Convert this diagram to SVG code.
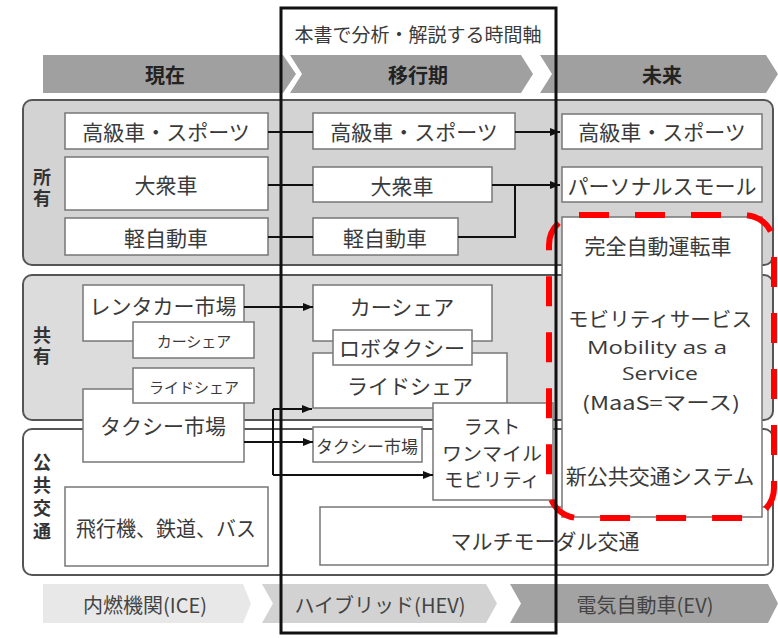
<svg xmlns="http://www.w3.org/2000/svg" width="778" height="638" viewBox="0 0 778 638">
<defs>
<marker id="ah" markerWidth="10" markerHeight="8" refX="10" refY="4" orient="auto" markerUnits="userSpaceOnUse">
<path d="M0,0 L10,4 L0,8 Z" fill="#111"/>
</marker>
</defs>
<style>
text{font-family:"Noto Sans CJK JP","Noto Sans",sans-serif;fill:#3a3a3a;dominant-baseline:central;text-anchor:middle}
.t{font-size:21px}
.s{font-size:15px}
.m{font-size:17px}
.h{font-size:20px;font-weight:bold;fill:#222}
.v{font-size:18px;font-weight:bold;fill:#333;writing-mode:vertical-rl}
.b{font-size:20px;fill:#444}
.lat{font-family:"Open Sans","Noto Sans",sans-serif;font-size:19px}
.box{fill:#fff;stroke:#777;stroke-width:1.5}
.panel{stroke:#555;stroke-width:2}
.c{fill:none;stroke:#111;stroke-width:2}
.ca{fill:none;stroke:#111;stroke-width:2;marker-end:url(#ah)}
</style>
<rect width="778" height="638" fill="#fff"/>
<g id="header">
<path d="M43,55 H283 L296,74 L283,93 H43 Z" fill="#a0a0a0"/>
<path d="M290,55 H521 L533,74 L521,93 H290 L302,74 Z" fill="#a0a0a0"/>
<path d="M540,55 H766 L778,74 L766,93 H540 L552,74 Z" fill="#a0a0a0"/>
<text class="h" x="165" y="74">現在</text>
<text class="h" x="418" y="74">移行期</text>
<text class="h" x="662" y="74">未来</text>
</g>
<g id="panels">
<rect class="panel" x="23" y="100" width="750" height="165" rx="9" fill="#d3d3d3"/>
<rect class="panel" x="23" y="275" width="750" height="145" rx="9" fill="#dcdcdc"/>
<rect class="panel" x="23" y="429" width="750" height="146" rx="9" fill="#fff"/>
<text class="v" x="42" y="189" letter-spacing="3">所有</text>
<text class="v" x="42" y="347" letter-spacing="3">共有</text>
<text class="v" x="42" y="499" letter-spacing="5">公共交通</text>
</g>
<g id="n-left-luxury"><rect class="box" x="65" y="113" width="203" height="36"/><text class="t" x="166" y="131">高級車・スポーツ</text></g>
<g id="n-left-mass"><rect class="box" x="65" y="157" width="203" height="53"/><text class="t" x="166" y="184">大衆車</text></g>
<g id="n-left-kei"><rect class="box" x="65" y="218" width="203" height="37"/><text class="t" x="166" y="237">軽自動車</text></g>
<g id="n-mid-luxury"><rect class="box" x="313" y="113" width="202" height="36"/><text class="t" x="414" y="131">高級車・スポーツ</text></g>
<g id="n-mid-mass"><rect class="box" x="313" y="167" width="179" height="35"/><text class="t" x="402" y="185">大衆車</text></g>
<g id="n-mid-kei"><rect class="box" x="313" y="218" width="145" height="37"/><text class="t" x="385" y="237">軽自動車</text></g>
<g id="n-right-luxury"><rect class="box" x="562" y="114" width="200" height="35"/><text class="t" x="662" y="131">高級車・スポーツ</text></g>
<g id="n-right-personal"><rect class="box" x="562" y="167" width="200" height="35"/><text class="t" x="662" y="185">パーソナルスモール</text></g>
<g id="n-rental"><rect class="box" x="83" y="285" width="161" height="56"/><text class="t" x="163" y="305">レンタカー市場</text></g>
<g id="n-carshare-small"><rect class="box" x="133" y="322" width="121" height="36"/><text class="s" x="194" y="340">カーシェア</text></g>
<g id="n-taxi"><rect class="box" x="83" y="389" width="161" height="73"/><text class="t" x="163" y="425">タクシー市場</text></g>
<g id="n-rideshare-small"><rect class="box" x="133" y="368" width="121" height="35"/><text class="s" x="194" y="386">ライドシェア</text></g>
<g id="n-mid-carshare"><rect class="box" x="313" y="285" width="179" height="56"/><text class="t" x="402" y="306">カーシェア</text></g>
<g id="n-mid-rideshare"><rect class="box" x="313" y="353" width="194" height="55"/><text class="t" x="410" y="385">ライドシェア</text></g>
<g id="n-robotaxi"><rect class="box" x="333" y="330" width="139" height="35"/><text class="t" x="402" y="347">ロボタクシー</text></g>
<g id="n-mid-taxi"><rect class="box" x="313" y="427" width="109" height="35"/><text class="m" x="367" y="445">タクシー市場</text></g>
<g id="n-lastmile"><rect class="box" x="433" y="403" width="120" height="97"/><text style="font-size:19px" x="492" y="425">ラスト</text><text style="font-size:19px" x="492" y="452" textLength="100" lengthAdjust="spacingAndGlyphs">ワンマイル</text><text style="font-size:19px" x="492" y="478" textLength="96" lengthAdjust="spacingAndGlyphs">モビリティ</text></g>
<g id="n-transit"><rect class="box" x="65" y="487" width="203" height="79"/><text class="t" x="166" y="527" textLength="180" lengthAdjust="spacingAndGlyphs">飛行機、鉄道、バス</text></g>
<g id="n-multimodal"><rect class="box" x="320" y="507" width="448" height="58"/><text class="t" x="545" y="540">マルチモーダル交通</text></g>
<g id="connectors">
<path class="c" d="M268,132 H313"/>
<path class="c" d="M268,185 H313"/>
<path class="c" d="M268,237 H313"/>
<path class="ca" d="M515,132 H560"/>
<path class="ca" d="M492,185 H560"/>
<path class="c" d="M458,237 H515 V185"/>
<path class="ca" d="M244,307 H313"/>
<path class="ca" d="M244,442 H313"/>
<path class="c" d="M273,409 V475"/>
<path class="ca" d="M273,409 H312"/>
<path class="ca" d="M273,475 H433"/>
</g>
<g id="n-future">
<rect class="box" x="562" y="217" width="200" height="300"/>
<text class="t" x="658" y="245">完全自動運転車</text>
<text style="font-size:20px" x="660" y="318" textLength="184" lengthAdjust="spacingAndGlyphs">モビリティサービス</text>
<text class="lat" x="657" y="347" textLength="140" lengthAdjust="spacingAndGlyphs">Mobility as a</text>
<text class="lat" x="660" y="373" textLength="76" lengthAdjust="spacingAndGlyphs">Service</text>
<text style="font-size:19px" x="661" y="401" textLength="158" lengthAdjust="spacingAndGlyphs">(MaaS=マース)</text>
<text class="t" x="660" y="475">新公共交通システム</text>
</g>
<g id="highlight">
<rect x="549" y="215" width="225" height="303" rx="30" fill="none" stroke="#ff0000" stroke-width="6" stroke-dasharray="30 26"/>
</g>
<g id="footer">
<path d="M43,584 H243 L251,603.5 L243,623 H43 Z" fill="#e8e8e8"/>
<path d="M262,584 H486 L497,603.5 L486,623 H262 L273,603.5 Z" fill="#d2d2d2"/>
<path d="M510,584 H768 L778,603.5 L768,623 H510 L521,603.5 Z" fill="#a3a3a3"/>
<text class="b" x="145" y="604">内燃機関(ICE)</text>
<text class="b" x="380" y="604">ハイブリッド(HEV)</text>
<text class="b" x="645" y="604">電気自動車(EV)</text>
</g>
<g id="frame">
<rect x="281" y="8" width="275" height="625" fill="none" stroke="#111" stroke-width="3"/>
<text style="font-size:19px" x="418" y="33">本書で分析・解説する時間軸</text>
</g>
</svg>
